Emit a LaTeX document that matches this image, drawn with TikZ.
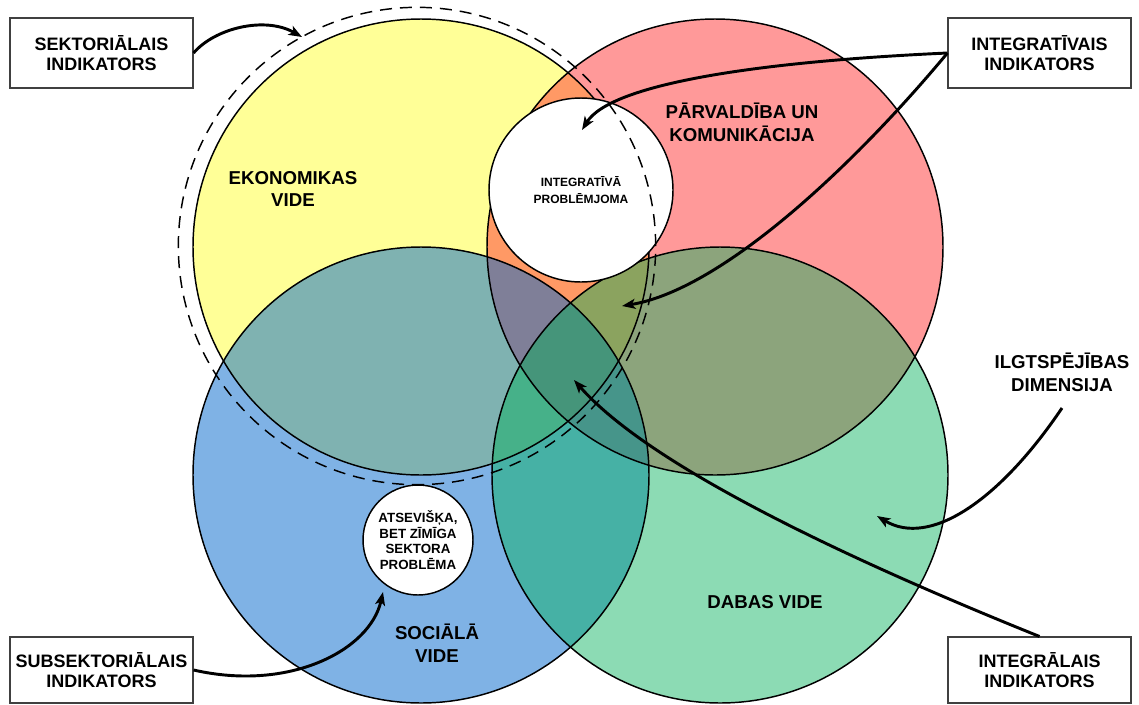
\documentclass[tikz,border=0pt]{standalone}
\usepackage{fontspec}
\setmainfont{Liberation Sans}
\usetikzlibrary{arrows.meta}

\definecolor{ecoFill}{HTML}{FFFF30}
\definecolor{govFill}{HTML}{FF3434}
\definecolor{socFill}{HTML}{0066CC}
\definecolor{natFill}{HTML}{00B058}

\begin{document}
\begin{tikzpicture}[x=0.75pt,y=-0.75pt,
  zone/.style={circle, inner sep=0pt, minimum size=342pt},
  zonefill/.style={fill=#1, fill opacity=0.5},
  zoneline/.style={draw=black, line width=1.1pt},
  infobox/.style={draw=black!75, line width=0.8pt, minimum width=137.25pt, minimum height=52.5pt,
    align=center, font=\bfseries\fontsize{13.5}{15}\selectfont},
  zonelabel/.style={align=center, inner sep=0pt, font=\bfseries\fontsize{14}{17}\selectfont},
  problem/.style={circle, fill=white, draw=black, line width=1.1pt, inner sep=0pt},
  pointer/.style={line width=2.2pt, -{Stealth[length=10pt, width=7.5pt, inset=2.5pt]}}
]
\useasboundingbox (0,0) rectangle (1139,704);

% --- the four dimensions of sustainability
\node[zone] (eco) at (421,247) {};
\node[zone] (gov) at (715,247) {};
\node[zone] (soc) at (421,475) {};
\node[zone] (nat) at (720,475) {};

\fill[zonefill=ecoFill] (eco.center) circle[radius=171pt];
\fill[zonefill=govFill] (gov.center) circle[radius=171pt];
\fill[zonefill=socFill] (soc.center) circle[radius=171pt];
\fill[zonefill=natFill, fill opacity=0.45] (nat.center) circle[radius=171pt];

\foreach \z in {eco,gov,soc,nat}
  \draw[zoneline] (\z.center) circle[radius=171pt];

% --- problem areas
\node[problem, minimum size=138pt] (intprob) at (581,190) {};
\node[problem, minimum size=82.5pt] (secprob) at (418,540) {};

% sector boundary around the economic zone
\node[circle, inner sep=0pt, minimum size=358pt] (sector) at (417,246) {};
\draw[line width=1.1pt, dash pattern=on 9pt off 6pt] (sector.center) circle[radius=179pt];

% --- labels inside the zones
\node[zonelabel] (ekoT) at (293,189) {EKONOMIKAS\\VIDE};
\node[zonelabel] (govT) at (742,122) {PĀRVALDĪBA UN\\KOMUNIKĀCIJA};
\node[zonelabel] (socT) at (437,643) {SOCIĀLĀ\\VIDE};
\node[zonelabel] (natT) at (765,602) {DABAS VIDE};
\node[zonelabel] (dimT) at (1062,372) {ILGTSPĒJĪBAS\\DIMENSIJA};

\node[align=center, inner sep=0pt, font=\bfseries\fontsize{9}{13}\selectfont] (intprobT) at (intprob) {INTEGRATĪVĀ\\PROBLĒMJOMA};
\node[align=center, inner sep=0pt, font=\bfseries\fontsize{10}{11.6}\selectfont] (secprobT) at (secprob) {ATSEVIŠĶA,\\BET ZĪMĪGA\\SEKTORA\\PROBLĒMA};

% --- indicator boxes
\node[infobox] (sekt) at (101.5,53) {SEKTORIĀLAIS\\INDIKATORS};
\node[infobox] (intg) at (1039.5,53) {INTEGRATĪVAIS\\INDIKATORS};
\node[infobox, minimum height=49.5pt] (subs) at (101.5,670) {SUBSEKTORIĀLAIS\\INDIKATORS};
\node[infobox, minimum height=49.5pt] (intl) at (1039.5,670) {INTEGRĀLAIS\\INDIKATORS};

% --- arrow targets
\coordinate (sektTip) at (302,37);
\coordinate (intgTipA) at (582,130);
\coordinate (intgTipB) at (622,306);
\coordinate (dimStart) at (1062,408);
\coordinate (dimTip) at (877,516);
\coordinate (intlTip) at (574,380);
\coordinate (subsTip) at (383,592);

% --- connectors
\draw[pointer] (sekt.east) .. controls (215,28) and (265,16) .. (sektTip);
\draw[pointer] (intg.west) .. controls (750,62) and (610,85) .. (intgTipA);
\draw[pointer] (intg.west) .. controls (850,170) and (720,290) .. (intgTipB);
\draw[pointer] (dimStart) .. controls (1000,500) and (930,548) .. (dimTip);
\draw[pointer] (intl.north) .. controls (800,540) and (640,455) .. (intlTip);
\draw[pointer] (subs.east) .. controls (290,692) and (370,650) .. (subsTip);
\end{tikzpicture}
\end{document}
